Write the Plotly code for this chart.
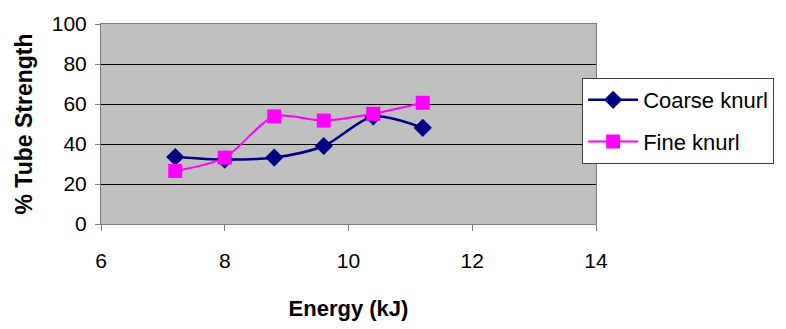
import plotly.graph_objects as go

energy = [7.2, 8.0, 8.8, 9.6, 10.4, 11.2]
coarse = [33.5, 32.2, 33.2, 39.0, 53.8, 48.1]
fine = [26.5, 33.2, 53.8, 51.7, 55.1, 60.6]
y_ticks = [0, 20, 40, 60, 80, 100]
x_ticks = [6, 8, 10, 12, 14]

FONT = "Liberation Sans, Arial, sans-serif"

fig = go.Figure()
fig.add_trace(go.Scatter(
    x=energy, y=coarse, name="Coarse knurl", mode="lines+markers",
    line=dict(color="#000080", width=2.5, shape="spline", smoothing=0.8),
    marker=dict(symbol="diamond", size=14, color="#000080"),
    legendgroup="a",
))
fig.add_trace(go.Scatter(
    x=energy, y=fine, name="Fine knurl", mode="lines+markers",
    line=dict(color="#FF00FF", width=2, shape="spline", smoothing=0.8),
    marker=dict(symbol="square", size=14, color="#FF00FF"),
    legendgroup="b",
))

fig.update_layout(
    width=786, height=329,
    margin=dict(l=101, r=189, t=21, b=103),
    paper_bgcolor="white",
    plot_bgcolor="#C0C0C0",
    font=dict(family=FONT, size=21, color="black"),
    showlegend=True,
    legend=dict(
        x=0.972, y=0.73, xanchor="left", yanchor="top",
        bgcolor="white", bordercolor="#404040", borderwidth=1,
        font=dict(family=FONT, size=22, color="black"),
        traceorder="grouped", tracegroupgap=10,
        itemwidth=50,
    ),
)
fig.update_xaxes(
    range=[6, 14], tickvals=x_ticks, ticktext=[str(v) for v in x_ticks],
    showgrid=False, zeroline=False,
    showline=True, linecolor="#808080", linewidth=1, mirror=True,
    ticks="outside", ticklen=6, tickcolor="#808080",
    ticklabelstandoff=12,
    tickfont=dict(family=FONT, size=21),
    title=dict(text="<b>Energy (kJ)</b>", font=dict(family=FONT, size=22), standoff=29),
)
fig.update_yaxes(
    range=[0, 100], tickvals=y_ticks, ticktext=[str(v) for v in y_ticks],
    showgrid=True, gridcolor="black", gridwidth=1,
    zeroline=False,
    showline=True, linecolor="#808080", linewidth=1, mirror=True,
    ticks="outside", ticklen=5, tickcolor="#808080",
    ticklabelstandoff=4,
    tickfont=dict(family=FONT, size=21),
    title=dict(text="<b>% Tube Strength</b>", font=dict(family=FONT, size=23), standoff=12),
)

fig.write_html("out.html")
